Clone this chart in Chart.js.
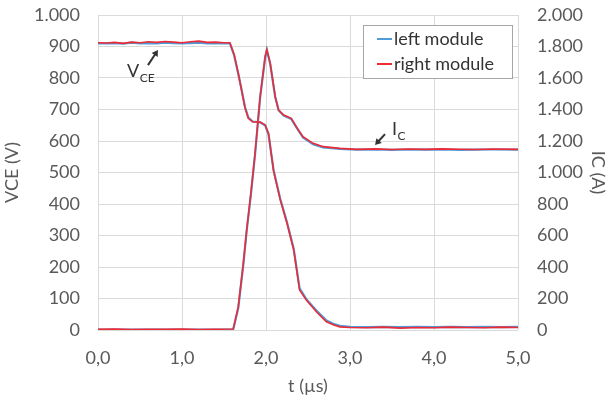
<!DOCTYPE html>
<html><head><meta charset="utf-8">
<script src="https://cdn.jsdelivr.net/npm/chart.js@4"></script>
<style>html,body{margin:0;padding:0;background:#fff}#wrap{width:610px;height:398px}</style>
</head><body><div id="wrap"><canvas id="c" width="610" height="398"></canvas></div>
<script>
// ---- data ----
const timesV = [0,0.1,0.2,0.3,0.4,0.5,0.6,0.7,0.8,0.9,1.0,1.1,1.2,1.3,1.4,1.5,
  1.57,1.62,1.67,1.71,1.75,1.79,1.84,1.93,1.99,2.03,
  2.09,2.17,2.25,2.33,2.40,2.48,2.60,2.72,2.80,2.88,
  3.0,3.2,3.4,3.6,3.8,4.0,4.2,4.4,4.6,4.8,5.0];
const vceRight = [912,911,913,910,914,912,915,913,916,914,912,915,917,913,914,912,
  912,875,815,760,705,672,661,660,651,624,
  505,413,339,254,127,95,58,26,17,10,
  8,7,9,6,8,7,9,8,7,9,8];
const vceLeft = [910,910,911,909,912,910,911,910,912,911,910,911,912,910,911,910,
  910,873,813,762,708,674,662,659,650,621,
  508,416,342,258,132,98,62,30,20,13,
  10,9,10,9,10,9,10,9,10,9,10];
const timesI = [0,0.2,0.4,0.6,0.8,1.0,1.2,1.4,
  1.61,1.67,1.73,1.77,1.82,1.87,1.93,1.99,2.01,
  2.05,2.11,2.15,2.21,2.30,2.36,2.44,2.56,2.68,2.88,3.08,
  3.3,3.5,3.7,3.9,4.1,4.3,4.5,4.7,5.0];
const icRight = [4,6,3,5,4,6,3,5,
  6,148,423,635,868,1122,1481,1735,1781,
  1693,1481,1397,1365,1344,1291,1227,1185,1164,1153,1147,
  1150,1146,1149,1147,1150,1148,1146,1149,1147];
const icLeft = [2,3,2,3,2,3,2,3,
  4,140,415,630,860,1115,1475,1730,1778,
  1690,1478,1395,1362,1340,1288,1222,1180,1160,1150,1145,
  1146,1144,1146,1145,1146,1144,1145,1146,1145];
const xTickLabels = ['0,0','1,0','2,0','3,0','4,0','5,0'];
const vceTickLabels = ['0','100','200','300','400','500','600','700','800','900','1.000'];
const icTickLabels = ['0','200','400','600','800','1.000','1.200','1.400','1.600','1.800','2.000'];
const seriesNames = ['left module','right module'];

// ---- styles ----
const BLUE = '#4f9bd8', RED = '#ee2a35', TXT = '#595959', GRID = '#dadada';
const FONT = 'Lato, "Open Sans", sans-serif';

function pts(xs, ys){ return xs.map((x,i)=>({x:x, y:ys[i]})); }

const annotations = {
  id:'annot',
  afterDatasetsDraw(chart){
    const {ctx, scales:{x, y}} = chart;
    ctx.save();
    ctx.fillStyle = '#333'; ctx.strokeStyle = '#333';
    function arrow(t0,v0,t1,v1){
      const x0=x.getPixelForValue(t0), y0=y.getPixelForValue(v0);
      const x1=x.getPixelForValue(t1), y1=y.getPixelForValue(v1);
      const a=Math.atan2(y1-y0,x1-x0), h=6;
      ctx.lineWidth=2; ctx.beginPath(); ctx.moveTo(x0,y0);
      ctx.lineTo(x1-Math.cos(a)*h*0.8,y1-Math.sin(a)*h*0.8); ctx.stroke();
      ctx.beginPath(); ctx.moveTo(x1,y1);
      ctx.lineTo(x1-h*Math.cos(a)+h*0.6*Math.sin(a), y1-h*Math.sin(a)-h*0.6*Math.cos(a));
      ctx.lineTo(x1-h*Math.cos(a)-h*0.6*Math.sin(a), y1-h*Math.sin(a)+h*0.6*Math.cos(a));
      ctx.closePath(); ctx.fill();
    }
    function label(t,v,main,sub){
      const px=x.getPixelForValue(t), py=y.getPixelForValue(v);
      ctx.textAlign='left'; ctx.textBaseline='alphabetic';
      ctx.font='18px '+FONT; ctx.fillText(main,px,py);
      const w=ctx.measureText(main).width;
      ctx.font='12px '+FONT; ctx.fillText(sub,px+w+0.5,py+5);
    }
    label(0.345,803,'V','CE');
    arrow(0.595,841,0.714,889);
    label(3.50,619,'I','C');
    arrow(3.417,622,3.298,587);
    ctx.restore();
  }
};

const legendBox = {
  id:'legendBox',
  afterDraw(chart){
    const {ctx, chartArea} = chart;
    const bx = chartArea.right-155, by = chartArea.top+10, bw = 149, bh = 53;
    ctx.save();
    ctx.fillStyle='#fff'; ctx.fillRect(bx,by,bw,bh);
    ctx.strokeStyle='#a6a6a6'; ctx.lineWidth=1; ctx.strokeRect(bx+0.5,by+0.5,bw,bh);
    const cols=[BLUE,RED];
    ctx.font='18px '+FONT; ctx.textBaseline='middle'; ctx.textAlign='left';
    seriesNames.forEach((n,i)=>{
      const yy = by+14+i*25;
      ctx.strokeStyle=cols[i]; ctx.lineWidth=2;
      ctx.beginPath(); ctx.moveTo(bx+14,yy); ctx.lineTo(bx+29,yy); ctx.stroke();
      ctx.fillStyle='#333'; ctx.fillText(n,bx+31,yy);
    });
    ctx.restore();
  }
};

const ds = (label,data,color,axis,order)=>({label,data,borderColor:color,backgroundColor:color,
  borderWidth:color===RED?1.6:2.2,pointRadius:0,tension:0,yAxisID:axis,order});

function fixPad(s){ s.paddingTop=0; s.paddingBottom=0; s.paddingLeft=0; s.paddingRight=0; }

new Chart(document.getElementById('c'), {
  type:'line',
  data:{datasets:[
    ds('VCE '+seriesNames[1], pts(timesV,vceRight), RED, 'y', 0),
    ds('IC '+seriesNames[1], pts(timesI,icRight), RED, 'y1', 0),
    ds('VCE '+seriesNames[0], pts(timesV,vceLeft), BLUE, 'y', 1),
    ds('IC '+seriesNames[0], pts(timesI,icLeft), BLUE, 'y1', 1)
  ]},
  options:{
    responsive:false, animation:false, devicePixelRatio:1,
    layout:{padding:{top:15,left:0,right:0,bottom:0}},
    plugins:{legend:{display:false}, tooltip:{enabled:false}},
    scales:{
      x:{type:'linear', min:0, max:5,
        ticks:{stepSize:1, color:TXT, font:{family:FONT,size:18}, padding:17, maxRotation:0,
          callback:(v,i)=>xTickLabels[i]},
        grid:{color:GRID, drawTicks:false}, border:{display:false},
        title:{display:true, text:'t (µs)', color:TXT, font:{family:FONT,size:18}, padding:{top:0,bottom:1}},
        afterFit:(s)=>{s.height=68; fixPad(s);}
      },
      y:{position:'left', min:0, max:1000,
        ticks:{stepSize:100, color:TXT, font:{family:FONT,size:18}, padding:18,
          callback:(v,i)=>vceTickLabels[i]},
        grid:{color:GRID, drawTicks:false}, border:{display:false},
        title:{display:true, text:'VCE (V)', color:TXT, font:{family:FONT,size:18}, padding:{top:1,bottom:0}},
        afterFit:(s)=>{s.width=98; fixPad(s);}
      },
      y1:{position:'right', min:0, max:2000,
        ticks:{stepSize:200, color:TXT, font:{family:FONT,size:18}, padding:19,
          callback:(v,i)=>icTickLabels[i]},
        grid:{display:false, drawTicks:false}, border:{display:false},
        title:{display:true, text:'IC (A)', color:TXT, font:{family:FONT,size:18}, padding:{top:1,bottom:0}},
        afterFit:(s)=>{s.width=92; fixPad(s);}
      }
    }
  },
  plugins:[annotations, legendBox]
});
</script>
</body></html>
